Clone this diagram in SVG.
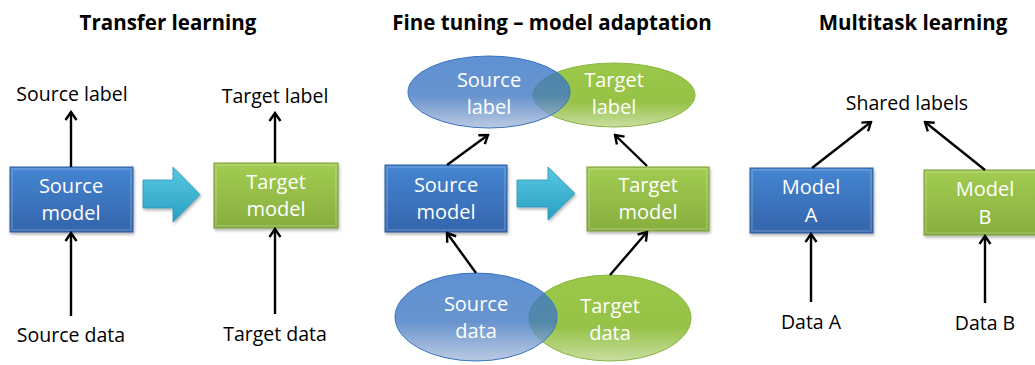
<svg xmlns="http://www.w3.org/2000/svg" width="1035" height="365" viewBox="0 0 1035 365">
<defs>
<linearGradient id="gBlue" x1="0" y1="0" x2="0" y2="1"><stop offset="0" stop-color="#4585d2"/><stop offset="1" stop-color="#3465ac"/></linearGradient>
<linearGradient id="gGreen" x1="0" y1="0" x2="0" y2="1"><stop offset="0" stop-color="#a2cc52"/><stop offset="1" stop-color="#88ae3e"/></linearGradient>
<linearGradient id="gCyan" x1="0" y1="0" x2="0" y2="1"><stop offset="0" stop-color="#58c8e2"/><stop offset="1" stop-color="#2a9fc2"/></linearGradient>
<linearGradient id="eBlue" x1="0" y1="0" x2="0" y2="1"><stop offset="0" stop-color="#3676c8"/><stop offset="0.55" stop-color="#4279c2"/><stop offset="1" stop-color="#aabcdb"/></linearGradient>
<linearGradient id="eGreen" x1="0" y1="0" x2="0" y2="1"><stop offset="0" stop-color="#9bc74a"/><stop offset="0.6" stop-color="#96c246"/><stop offset="1" stop-color="#c8dea0"/></linearGradient>
<filter id="sh" x="-10%" y="-10%" width="130%" height="140%"><feDropShadow dx="1" dy="2" stdDeviation="1.5" flood-color="#000" flood-opacity="0.3"/></filter>
<marker id="ah" viewBox="0 0 14 14" refX="12" refY="7" markerWidth="14" markerHeight="14" orient="auto" markerUnits="userSpaceOnUse"><path d="M4,1.5 L12,7 L4,12.5" fill="none" stroke="#000" stroke-width="2.4"/></marker>
</defs>
<style>
.title{font-family:"Open Sans","Liberation Sans",sans-serif;font-weight:bold;font-size:20.5px;fill:#000;text-anchor:middle}
.lbl{font-family:"Open Sans","Liberation Sans",sans-serif;font-size:19.5px;fill:#000;text-anchor:middle}
.in{font-family:"Open Sans","Liberation Sans",sans-serif;font-size:20px;fill:#fff;text-anchor:middle}
.bb{fill:url(#gBlue);stroke:#2f5d9c;stroke-width:1;filter:url(#sh)}
.gb{fill:url(#gGreen);stroke:#7a9c36;stroke-width:1;filter:url(#sh)}
.hl{fill:none;stroke:#fff;stroke-opacity:0.15;stroke-width:2}
.cy{fill:url(#gCyan);stroke:#2a96b6;stroke-width:0.8;filter:url(#sh)}
.eb{fill:url(#eBlue);fill-opacity:0.8;stroke:#3a74c0;stroke-width:1}
.eg{fill:url(#eGreen);stroke:#8cb644;stroke-width:1}
.c{fill:none;stroke:#000;stroke-width:2.4;marker-end:url(#ah)}
</style>

<text class="title" x="168" y="30">Transfer learning</text>
<text class="title" x="552" y="30">Fine tuning – model adaptation</text>
<text class="title" x="913" y="30">Multitask learning</text>

<g id="tl-source-model"><rect class="bb" x="10" y="167" width="123" height="65"/><rect class="hl" x="12" y="169" width="119" height="61"/><text class="in" x="71" y="193">Source</text><text class="in" x="71" y="220">model</text></g>
<g id="tl-target-model"><rect class="gb" x="214" y="163" width="124" height="65"/><rect class="hl" x="216" y="165" width="120" height="61"/><text class="in" x="276" y="189">Target</text><text class="in" x="276" y="216">model</text></g>
<g id="tl-source-label"><text class="lbl" x="72" y="101">Source label</text></g>
<g id="tl-target-label"><text class="lbl" x="275" y="103">Target label</text></g>
<g id="tl-source-data"><text class="lbl" x="71" y="342">Source data</text></g>
<g id="tl-target-data"><text class="lbl" x="275" y="341">Target data</text></g>
<g id="tl-transfer"><polygon class="cy" points="143,180 173,180 173,167 200,194.5 173,222 173,208 143,208"/></g>

<g id="ft-target-label"><ellipse class="eg" cx="614" cy="95" rx="81" ry="32"/><text class="in" x="614" y="87">Target</text><text class="in" x="614" y="114">label</text></g>
<g id="ft-source-label"><ellipse class="eb" cx="489" cy="92" rx="81" ry="36"/><text class="in" x="489" y="87">Source</text><text class="in" x="489" y="114">label</text></g>
<g id="ft-target-data"><ellipse class="eg" cx="610" cy="318" rx="81" ry="43"/><text class="in" x="610" y="313">Target</text><text class="in" x="610" y="340">data</text></g>
<g id="ft-source-data"><ellipse class="eb" cx="476" cy="317" rx="81" ry="44"/><text class="in" x="476" y="311">Source</text><text class="in" x="476" y="338">data</text></g>
<g id="ft-source-model"><rect class="bb" x="385" y="165" width="122" height="67"/><rect class="hl" x="387" y="167" width="118" height="63"/><text class="in" x="446" y="192">Source</text><text class="in" x="446" y="219">model</text></g>
<g id="ft-target-model"><rect class="gb" x="587" y="167" width="122" height="64"/><rect class="hl" x="589" y="169" width="118" height="60"/><text class="in" x="648" y="192">Target</text><text class="in" x="648" y="219">model</text></g>
<g id="ft-transfer"><polygon class="cy" points="517,180 548,180 548,167 575,193.5 548,220 548,207 517,207"/></g>

<g id="mt-shared-labels"><text class="lbl" x="907" y="110">Shared labels</text></g>
<g id="mt-model-a"><rect class="bb" x="750" y="168" width="123" height="65"/><rect class="hl" x="752" y="170" width="119" height="61"/><text class="in" x="811" y="194">Model</text><text class="in" x="811" y="222">A</text></g>
<g id="mt-model-b"><rect class="gb" x="924" y="170" width="124" height="65"/><rect class="hl" x="926" y="172" width="120" height="61"/><text class="in" x="985" y="196">Model</text><text class="in" x="985" y="224">B</text></g>
<g id="mt-data-a"><text class="lbl" x="811" y="329">Data A</text></g>
<g id="mt-data-b"><text class="lbl" x="985" y="330">Data B</text></g>

<g id="connectors">
<line class="c" x1="71" y1="167" x2="71" y2="112"/>
<line class="c" x1="71" y1="316" x2="71" y2="233"/>
<line class="c" x1="275" y1="163" x2="275" y2="113"/>
<line class="c" x1="275" y1="314" x2="275" y2="229"/>
<line class="c" x1="447" y1="165" x2="488" y2="135"/>
<line class="c" x1="647" y1="166" x2="615" y2="135"/>
<line class="c" x1="476" y1="273" x2="447" y2="233"/>
<line class="c" x1="610" y1="275" x2="647" y2="232"/>
<line class="c" x1="812" y1="168" x2="871" y2="122"/>
<line class="c" x1="985" y1="170" x2="925" y2="122"/>
<line class="c" x1="811" y1="302" x2="811" y2="234"/>
<line class="c" x1="985" y1="303" x2="985" y2="236"/>
</g>
</svg>
